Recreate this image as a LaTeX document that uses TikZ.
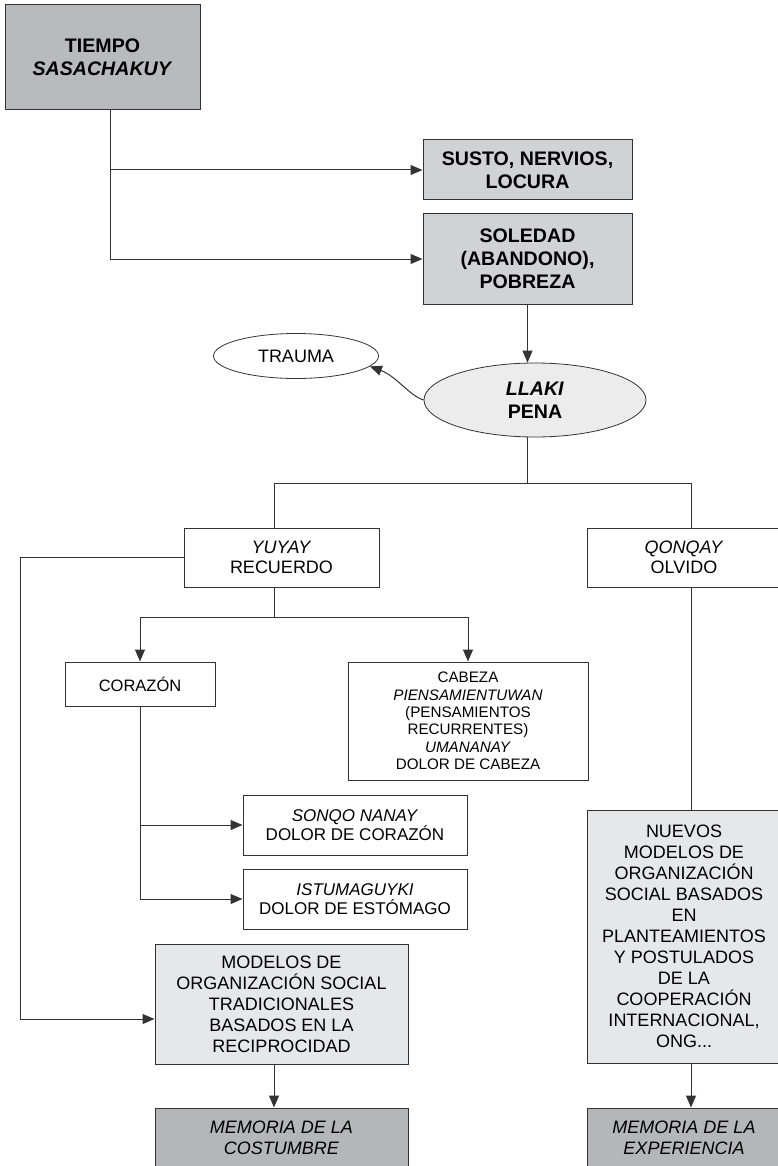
\documentclass[tikz,border=0pt]{standalone}
\usepackage{fontspec}
\setmainfont{Liberation Sans}
\usetikzlibrary{arrows.meta,shapes.geometric}
\definecolor{lc}{HTML}{333333}
\definecolor{gdark}{HTML}{B9BABD}
\definecolor{gmid}{HTML}{D1D2D4}
\definecolor{glight}{HTML}{E6E7E8}
\definecolor{gell}{HTML}{ECECEC}
\definecolor{gmem}{HTML}{B5B6B9}
\begin{document}
\begin{tikzpicture}[x=1pt,y=-1pt,
  box/.style={draw=lc,line width=1pt,rectangle,align=center,inner sep=0pt},
  ell/.style={draw=lc,line width=0.8pt,ellipse,align=center,inner sep=0pt},
  ln/.style={draw=lc,line width=1pt},
  arr/.style={ln,-{Triangle[length=12pt,width=10pt]}},
  bigf/.style={font=\fontsize{19.6}{23}\selectfont\bfseries},
  medf/.style={font=\fontsize{18}{21}\selectfont},
  yf/.style={font=\fontsize{18}{20}\selectfont},
  sf/.style={font=\fontsize{17}{19}\selectfont},
  cf/.style={font=\fontsize{15.2}{17.3}\selectfont}
]
\useasboundingbox (0,0) rectangle (777,1166);

% nodes
\node[box,bigf,fill=gdark,minimum width=195pt,minimum height=105pt] (tiempo) at (102.5,57.5) {TIEMPO\\\textit{SASACHAKUY}};
\node[box,bigf,fill=gmid,minimum width=209pt,minimum height=60pt] (susto) at (527.5,170) {SUSTO, NERVIOS,\\LOCURA};
\node[box,bigf,fill=gmid,minimum width=209pt,minimum height=90pt] (soledad) at (527.5,259) {SOLEDAD\\(ABANDONO),\\POBREZA};
\node[ell,bigf,fill=gell,minimum width=222pt,minimum height=74pt] (llaki) at (535,400) {\textit{LLAKI}\\PENA};
\node[ell,medf,fill=white,minimum width=165pt,minimum height=45pt] (trauma) at (296,356) {TRAUMA};
\node[box,yf,minimum width=195pt,minimum height=59pt] (yuyay) at (281.5,557.5) {\textit{YUYAY}\\RECUERDO};
\node[box,yf,minimum width=194pt,minimum height=59pt] (qonqay) at (684,557.5) {\textit{QONQAY}\\OLVIDO};
\node[box,font=\fontsize{16.5}{19}\selectfont,minimum width=150pt,minimum height=44pt] (corazon) at (140,684) {CORAZÓN};
\node[box,cf,minimum width=240pt,minimum height=118pt] (cabeza) at (468,721) {CABEZA\\\textit{PIENSAMIENTUWAN}\\(PENSAMIENTOS\\RECURRENTES)\\\textit{UMANANAY}\\DOLOR DE CABEZA};
\node[box,sf,minimum width=224pt,minimum height=60pt] (sonqo) at (355,825) {\textit{SONQO NANAY}\\DOLOR DE CORAZÓN};
\node[box,sf,minimum width=224pt,minimum height=60pt] (istuma) at (355,899) {\textit{ISTUMAGUYKI}\\DOLOR DE ESTÓMAGO};
\node[box,medf,fill=glight,minimum width=253pt,minimum height=120pt] (modelos) at (281.5,1004) {MODELOS DE\\ORGANIZACIÓN SOCIAL\\TRADICIONALES\\BASADOS EN LA\\RECIPROCIDAD};
\node[box,medf,fill=glight,minimum width=194pt,minimum height=253pt] (nuevos) at (684,936.5) {NUEVOS\\MODELOS DE\\ORGANIZACIÓN\\SOCIAL BASADOS\\EN\\PLANTEAMIENTOS\\Y POSTULADOS\\DE LA\\COOPERACIÓN\\INTERNACIONAL,\\ONG...};
\node[box,medf,fill=gmem,minimum width=253pt,minimum height=60pt] (memc) at (281.5,1138) {\textit{MEMORIA DE LA}\\\textit{COSTUMBRE}};
\node[box,medf,fill=gmem,minimum width=194pt,minimum height=60pt] (meme) at (684,1138) {\textit{MEMORIA DE LA}\\\textit{EXPERIENCIA}};

% coordinates
\coordinate (t1) at (110,170);
\coordinate (b) at (527,483);
\coordinate (ly) at (274,483);
\coordinate (lq) at (691,483);
\coordinate (y1) at (274,617);
\coordinate (lft1) at (20,557.5);
\coordinate (lft2) at (20,1019);
\coordinate (mx) at (274,1064);

% connectors
\draw[ln] (tiempo.south -| t1) -- (t1);
\draw[arr] (t1) -- (susto.west);
\draw[arr] (t1) |- (soledad.west);
\draw[arr] (soledad.south) -- (llaki.north -| soledad.south);
\draw[arr] (llaki.west) .. controls (410,396) and (396,376) .. (trauma.-8);
\draw[ln] (llaki.south -| b) -- (b);
\draw[ln] (yuyay.north -| ly) -- (ly) -- (lq) -- (qonqay.north -| lq);
\draw[arr] (yuyay.west) -- (lft1) -- (lft2) -- (lft2 -| modelos.west);
\draw[ln] (yuyay.south -| y1) -- (y1);
\draw[arr] (y1) -| (corazon.north);
\draw[arr] (y1) -| (cabeza.north);
\draw[arr] (corazon.south) |- (istuma.west);
\draw[arr] (corazon.south |- sonqo.west) -- (sonqo.west);
\draw[arr] (mx) -- (memc.north -| mx);
\draw[ln] (qonqay.south -| lq) -- (nuevos.north -| lq);
\draw[arr] (nuevos.south -| lq) -- (meme.north -| lq);
\end{tikzpicture}
\end{document}
